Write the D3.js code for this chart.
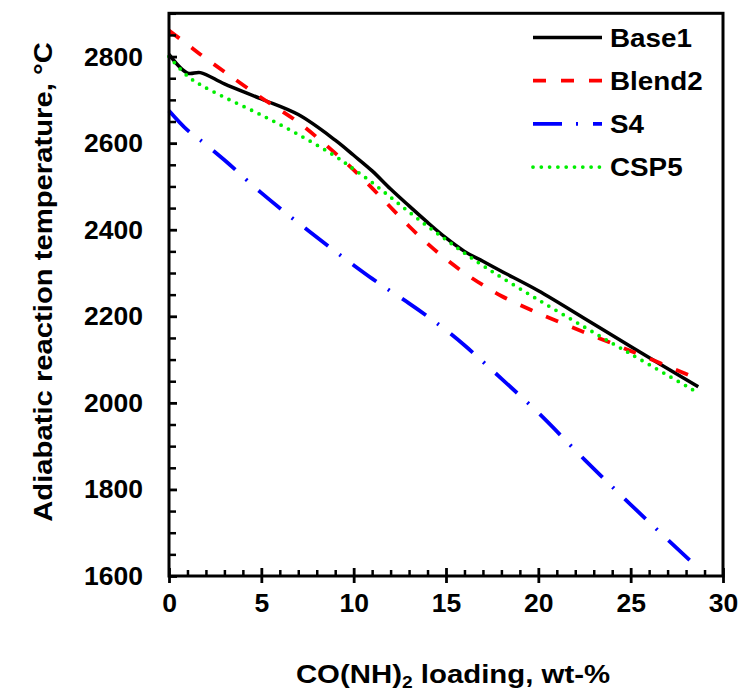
<!DOCTYPE html>
<html>
<head>
<meta charset="utf-8">
<script src="https://cdn.jsdelivr.net/npm/d3@7"></script>
<style>
  html, body { margin: 0; padding: 0; background: #fff; }
  svg { display: block; }
  text { font-family: "Liberation Sans", Arial, sans-serif; font-weight: bold; fill: #000; }
</style>
</head>
<body>
<svg id="chart" width="743" height="691"></svg>
<script>
// Urea (CO(NH)2) loading, wt-%
const loading = [0, 1, 1.7, 3, 5, 7, 9, 10, 11, 12, 13, 14, 15, 16, 17, 18, 20, 22.5, 25, 28.66];

// Adiabatic reaction temperature, °C, for each formulation
const base1  = [2805, 2762, 2763, 2737, 2702, 2666, 2607, 2572, 2536, 2494, 2455, 2417, 2381, 2350, 2327, 2304, 2259, 2195, 2130, 2037];
const blend2 = [2860, 2828, 2805, 2765, 2705, 2648, 2577, 2538, 2496, 2452, 2408, 2368, 2332, 2300, 2272, 2247, 2207, 2163, 2120, 2055];
const s4     = [2675, 2630, 2607, 2561, 2485, 2416, 2350, 2318, 2287, 2258, 2230, 2200, 2168, 2133, 2095, 2056, 1977, 1869, 1765, 1618];
const csp5   = [2800, 2755, 2735, 2706, 2665, 2620, 2570, 2540, 2509, 2475, 2441, 2408, 2377, 2346, 2317, 2290, 2238, 2175, 2113, 2023];

const seriesNames = ["Base1", "Blend2", "S4", "CSP5"];
const xTicks = [0, 5, 10, 15, 20, 25, 30];
const yTicks = [1600, 1800, 2000, 2200, 2400, 2600, 2800];

const styles = {
  "Base1":  { color: "#000000", dash: null,            width: 3.5, cap: "butt" },
  "Blend2": { color: "#FF0000", dash: "13,15",         width: 3.8, cap: "butt" },
  "S4":     { color: "#0000FF", dash: "29,14,2,15",    width: 3.8, cap: "butt" },
  "CSP5":   { color: "#00EE00", dash: "0,8.3",         width: 3.8, cap: "round" }
};

const seriesValues = { "Base1": base1, "Blend2": blend2, "S4": s4, "CSP5": csp5 };

const svg = d3.select("#chart");
const plotLeft = 169, plotRight = 723, plotTop = 13.3, plotBottom = 576;

const x = d3.scaleLinear().domain([0, 30]).range([plotLeft, plotRight]);
const y = d3.scaleLinear().domain([1600, 2900]).range([plotBottom, plotTop]);

const TICK_FS = 26.5;
const FS = 26;

// Curves
const line = d3.line()
  .x(d => x(d[0]))
  .y(d => y(d[1]))
  .curve(d3.curveCatmullRom.alpha(0.5));

const plot = svg.append("g");
seriesNames.forEach(name => {
  const st = styles[name];
  const pts = loading.map((v, i) => [v, seriesValues[name][i]]);
  plot.append("path")
    .attr("d", line(pts))
    .attr("fill", "none")
    .attr("stroke", st.color)
    .attr("stroke-width", st.width)
    .attr("stroke-linecap", st.cap)
    .attr("stroke-linejoin", "round")
    .attr("stroke-dasharray", st.dash);
});

// Minor ticks
const xMinor = d3.range(0, 31, 1).filter(v => v % 5 !== 0);
const yMinor = d3.range(1600, 2901, 50).filter(v => v % 200 !== 0);

svg.append("g")
  .attr("transform", `translate(0,${plotBottom})`)
  .call(d3.axisBottom(x).tickValues(xMinor).tickSize(-6).tickFormat(""))
  .call(g => g.select(".domain").remove())
  .call(g => g.selectAll(".tick line").attr("stroke-width", 2.5));

svg.append("g")
  .attr("transform", `translate(${plotLeft},0)`)
  .call(d3.axisLeft(y).tickValues(yMinor).tickSize(-7).tickFormat(""))
  .call(g => g.select(".domain").remove())
  .call(g => g.selectAll(".tick line").attr("stroke-width", 2.5));

// Major x axis (ticks cross the axis line)
svg.append("g")
  .attr("transform", `translate(0,${plotBottom})`)
  .call(d3.axisBottom(x).tickValues(xTicks).tickSize(7).tickPadding(10).tickFormat(d3.format("d")))
  .call(g => g.select(".domain").remove())
  .call(g => g.selectAll(".tick line").attr("y1", -8).attr("stroke-width", 2.8))
  .call(g => g.selectAll(".tick text")
    .style("font-size", TICK_FS + "px")
    .style("font-family", "'Liberation Sans', Arial, sans-serif")
    .style("font-weight", "bold"));

// Major y axis
svg.append("g")
  .attr("transform", `translate(${plotLeft},0)`)
  .call(d3.axisLeft(y).tickValues(yTicks).tickSize(-8).tickPadding(26).tickFormat(d3.format("d")))
  .call(g => g.select(".domain").remove())
  .call(g => g.selectAll(".tick line").attr("stroke-width", 2.8))
  .call(g => g.selectAll(".tick text")
    .style("font-size", TICK_FS + "px")
    .style("font-family", "'Liberation Sans', Arial, sans-serif")
    .style("font-weight", "bold"));

// Frame
svg.append("rect")
  .attr("x", plotLeft).attr("y", plotTop)
  .attr("width", plotRight - plotLeft).attr("height", plotBottom - plotTop)
  .attr("fill", "none").attr("stroke", "#000").attr("stroke-width", 3);

// Legend
const legend = svg.append("g");
seriesNames.forEach((name, i) => {
  const st = styles[name];
  const ly = 37.5 + i * 43.2;
  legend.append("line")
    .attr("x1", 533).attr("x2", 602)
    .attr("y1", ly).attr("y2", ly)
    .attr("stroke", st.color)
    .attr("stroke-width", st.width)
    .attr("stroke-linecap", st.cap)
    .attr("stroke-dasharray", st.dash);
  legend.append("text")
    .attr("transform", `translate(610,${ly}) scale(1.07,1)`)
    .attr("dy", "0.36em")
    .style("font-size", FS + "px")
    .text(name);
});

// Axis titles (set slightly wide)
const xt = svg.append("text")
  .attr("transform", "translate(453,683) scale(1.13,1)")
  .attr("text-anchor", "middle")
  .style("font-size", FS + "px");
xt.append("tspan").text("CO(NH)");
xt.append("tspan").attr("dy", 5).style("font-size", "17px").text("2");
xt.append("tspan").attr("dy", -5).text(" loading, wt-%");

svg.append("text")
  .attr("transform", "translate(52,282) rotate(-90) scale(1.125,1)")
  .attr("text-anchor", "middle")
  .style("font-size", FS + "px")
  .text("Adiabatic reaction temperature, °C");
</script>
</body>
</html>
